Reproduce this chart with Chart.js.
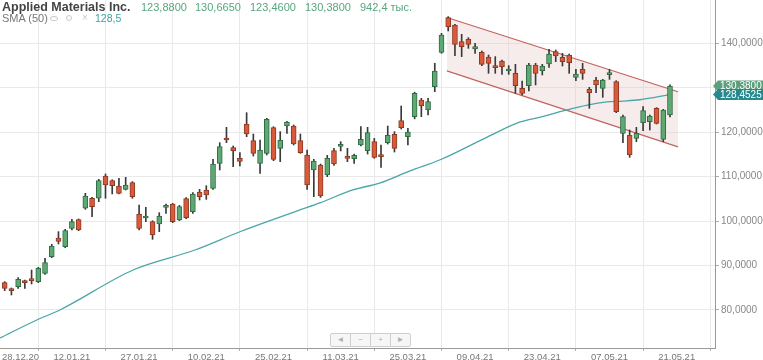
<!DOCTYPE html>
<html><head><meta charset="utf-8">
<script src="https://cdn.jsdelivr.net/npm/chart.js@4"></script>
<style>
html,body{margin:0;padding:0;background:#fff;}
#wrap{position:relative;width:763px;height:360px;overflow:hidden;font-family:Arial,"Liberation Sans",sans-serif;}
canvas{display:block;}
.t{position:absolute;white-space:nowrap;line-height:14px;}
#name{left:2px;top:0px;font-weight:bold;font-size:12.5px;color:#444;}
.v{font-size:11px;color:#56a67f;top:0px;}
#sma{left:2px;top:11px;font-size:11px;color:#777;}
#smaval{left:95px;top:11px;font-size:10.5px;color:#3ea2a2;}
.ic{position:absolute;border:1.5px solid #c8c8c8;}
#nav{position:absolute;left:331px;top:333px;height:13px;display:flex;}
#nav div{width:19px;height:12px;border:1px solid #cfcfcf;background:#f6f6f6;color:#b0b0b0;font-size:8px;line-height:12px;text-align:center;margin-left:-1px;}
#nav div:first-child{border-radius:2px 0 0 2px;}
#nav div:last-child{border-radius:0 2px 2px 0;}
</style></head>
<body>
<div id="wrap">
<canvas id="c" width="763" height="360"></canvas>
<span class="t" id="name"></span>
<span class="t v" id="v0" style="left:141px"></span>
<span class="t v" id="v1" style="left:195px"></span>
<span class="t v" id="v2" style="left:250px"></span>
<span class="t v" id="v3" style="left:305px"></span>
<span class="t v" id="v4" style="left:360px"></span>
<span class="t" id="sma"></span>
<div class="ic" style="left:50px;top:16px;width:6px;height:3px;border-radius:50%;"></div>
<div class="ic" style="left:66px;top:15px;width:4px;height:4px;border-radius:50%;"></div>
<span class="t" style="left:82px;top:11px;font-size:10px;color:#c8c8c8;">×</span>
<span class="t" id="smaval"></span>
<div id="nav"><div>◄</div><div>−</div><div>+</div><div>►</div></div>
</div>
<script>
// ---- data ----
const seriesName = 'Applied Materials Inc.';
const volumeText = '942,4 тыс.';
const smaName = 'SMA (50)';
const tickDates = ['28.12.20','12.01.21','27.01.21','10.02.21','25.02.21','11.03.21','25.03.21','09.04.21','23.04.21','07.05.21','21.05.21'];
const tickIdx = [0,10,20,30,40,50,60,70,80,90,100];
const yTicks = [80,90,100,110,120,130,140];

const opens = [86.15,84.80,85.25,86.60,86.90,86.38,88.25,92.00,96.20,94.25,
 98.38,100.33,102.88,105.13,105.13,110.15,109.10,107.90,107.15,108.65,
 101.60,100.69,99.87,99.34,103.09,103.84,100.24,105.04,102.12,106.54,
 106.99,107.37,112.99,118.69,116.52,114.12,121.84,118.09,112.99,115.24,
 121.02,116.37,121.39,121.39,118.09,114.87,111.49,112.62,110.37,115.84,
 116.82,114.64,114.04,117.12,115.84,117.87,114.64,117.64,119.52,122.59,
 118.99,123.50,127.25,125.00,130.25,137.97,145.77,144.12,140.37,140.90,
 138.72,137.97,136.92,134.90,136.02,133.77,133.25,129.87,130.47,135.12,
 133.84,135.34,138.12,136.84,137.37,132.34,134.14,129.64,131.74,129.87,
 132.94,131.37,119.74,119.37,118.62,122.14,122.37,125.37,118.39,123.88];
const highs = [86.38,84.95,87.28,86.75,89.00,89.60,91.63,94.78,97.63,98.15,
 100.40,100.48,106.25,105.35,109.40,110.60,109.30,109.63,109.85,108.88,
 103.62,103.09,100.09,101.89,103.84,103.99,103.54,105.27,106.39,107.14,
 107.97,113.89,117.64,121.09,116.89,115.39,124.39,119.59,118.24,123.12,
 121.24,120.12,122.44,121.62,119.59,115.99,113.89,112.84,114.79,116.37,
 117.87,116.37,115.09,121.24,121.09,118.62,117.12,121.39,120.12,125.89,
 120.87,129.00,127.62,127.62,135.50,142.25,146.00,144.27,142.02,141.27,
 140.00,138.27,137.37,137.00,136.25,134.97,135.27,131.52,135.50,135.50,
 135.27,138.64,138.49,137.74,137.59,134.14,135.49,130.09,132.34,131.89,
 134.14,131.59,123.87,120.49,121.09,125.74,123.87,125.52,125.14,130.665];
const lows = [84.35,83.38,84.88,84.88,85.85,86.15,88.03,91.78,94.85,94.03,
 98.00,97.85,102.65,101.00,104.38,105.13,106.10,106.10,107.00,105.13,
 97.99,99.87,95.89,97.62,101.74,99.64,100.09,100.54,101.74,104.74,
 104.89,107.14,111.49,117.64,112.24,112.39,118.99,114.64,110.74,114.87,
 113.59,113.37,119.74,117.12,115.24,107.14,105.49,105.34,109.99,112.54,
 115.77,113.37,112.99,116.89,115.09,114.12,112.09,117.34,115.54,120.72,
 117.12,123.00,123.50,123.87,129.12,137.75,142.77,137.22,137.00,138.87,
 137.75,134.97,133.25,133.25,133.02,133.02,128.75,128.37,129.27,130.62,
 132.87,134.59,135.87,134.89,133.24,131.59,131.89,125.37,128.89,127.84,
 131.89,124.39,117.64,114.34,117.87,120.34,120.49,121.84,117.87,123.46];
const closes = [84.88,84.35,86.90,86.15,86.60,89.38,90.65,94.40,95.45,97.85,
 99.88,98.00,105.65,103.25,109.10,108.13,107.98,106.25,108.13,105.50,
 98.37,100.99,96.87,101.14,103.54,99.87,103.24,100.77,106.09,105.49,
 105.87,112.84,116.74,118.24,115.77,113.44,119.59,115.24,115.99,122.89,
 113.89,118.24,122.29,117.34,115.39,108.12,113.52,105.64,114.12,112.84,
 116.97,114.12,114.79,118.39,119.89,114.34,114.49,119.29,116.37,121.02,
 120.04,128.75,125.97,126.87,133.77,141.87,143.75,139.77,139.25,139.77,
 139.25,135.27,135.50,134.52,134.75,134.22,130.47,128.75,135.12,133.25,
 134.89,137.59,137.14,135.87,135.64,133.09,133.24,128.89,130.62,131.74,
 133.24,124.62,123.49,114.87,119.74,124.84,123.64,121.99,124.99,130.38];

// SMA(50) at these candle positions
const smaIdx = [-0.7,4.7,8.2,19.1,28.3,35.0,40.2,43.9,46.9,51.8,55.9,60.3,64.8,71.8,76.7,79.7,83.1,86.7,89.6,92.0,94.5,99];
const smaVal = [73.7,77.7,80.0,89.0,93.5,97.6,100.5,102.5,104.1,107.0,108.6,111.3,113.8,118.9,122.3,123.4,124.8,126.1,126.8,127.0,127.3,128.4525];

// regression channel
const chanIdx = [65.8,100.2];
const chanUpper = [145.8,129.1];
const chanLower = [133.8,116.7];

// ---- helpers ----
const fmt4 = v => v.toFixed(4).replace('.', ',');
const n = opens.length;
const last = n - 1;

document.getElementById('name').textContent = seriesName;
[opens[last], highs[last], lows[last], closes[last]].forEach((v,i)=>{
  document.getElementById('v'+i).textContent = fmt4(v);
});
document.getElementById('v4').textContent = volumeText;
document.getElementById('sma').textContent = smaName;
document.getElementById('smaval').textContent = smaVal[smaVal.length-1].toFixed(1).replace('.', ',');

const GREEN = '#5ea874', GREEN_B = '#2f6b43', RED = '#d9593b', RED_B = '#8c3a24';
const up = opens.map((o,i)=>closes[i] >= o);

const wickData = opens.map((o,i)=>({x:i, y:[lows[i], highs[i]]}));
const bodyData = opens.map((o,i)=>({x:i, y:[o, closes[i]]}));

const tagPlugin = {
  id:'tags',
  afterDraw(chart){
    const ctx = chart.ctx, ys = chart.scales.y, a = chart.chartArea;
    const draw = (val, bg) => {
      const y = ys.getPixelForValue(val), h = 11, x0 = a.right;
      ctx.save();
      ctx.fillStyle = bg;
      ctx.beginPath();
      ctx.moveTo(x0 - 2, y);
      ctx.lineTo(x0 + 3, y - h/2);
      ctx.lineTo(chart.width, y - h/2);
      ctx.lineTo(chart.width, y + h/2);
      ctx.lineTo(x0 + 3, y + h/2);
      ctx.closePath();
      ctx.fill();
      ctx.fillStyle = '#fff';
      ctx.font = '10px Arial, "Liberation Sans", sans-serif';
      ctx.textBaseline = 'middle';
      ctx.textAlign = 'left';
      ctx.fillText(fmt4(val), x0 + 5, y + 0.5);
      ctx.restore();
    };
    draw(closes[last], '#5c9f7c');
    draw(smaVal[smaVal.length-1], '#27898d');
  }
};

Chart.defaults.font.family = 'Arial, "Liberation Sans", sans-serif';

new Chart(document.getElementById('c'), {
  type: 'bar',
  data: {
    datasets: [
      { type:'line', data: chanIdx.map((x,i)=>({x, y:chanUpper[i]})), borderColor:'#c4625c', borderWidth:1.2,
        pointRadius:0, fill:false, order:6 },
      { type:'line', data: chanIdx.map((x,i)=>({x, y:chanLower[i]})), borderColor:'#c4625c', borderWidth:1.2,
        pointRadius:0, fill:'-1', backgroundColor:'rgba(226,196,192,0.32)', order:6 },
      { type:'line', data: smaIdx.map((x,i)=>({x, y:smaVal[i]})), borderColor:'#4aa6a8', borderWidth:1.3,
        pointRadius:0, fill:false, cubicInterpolationMode:'monotone', order:5 },
      { type:'bar', data: wickData, grouped:false, barThickness:1, backgroundColor:'#3a3a3a', order:2 },
      { type:'bar', data: bodyData, grouped:false, barThickness:5, minBarLength:2,
        backgroundColor: up.map(u=>u?GREEN:RED), borderColor: up.map(u=>u?GREEN_B:RED_B),
        borderWidth:1, borderSkipped:false, order:1 }
    ]
  },
  options: {
    responsive:false, animation:false, devicePixelRatio:1,
    layout:{padding:0},
    plugins:{legend:{display:false}, tooltip:{enabled:false}},
    scales:{
      x:{
        type:'linear', min:-0.7, max:105.7, offset:false,
        afterBuildTicks: s => { s.ticks = tickIdx.map(v=>({value:v})); },
        afterFit: s => { s.height = 12; s.paddingLeft = 0; s.paddingRight = 0; },
        grid:{color:'#e9e9e9', drawTicks:true, tickLength:3, tickColor:'#b0b0b0'},
        border:{color:'#9a9a9a'},
        ticks:{color:'#777', font:{size:9.5}, padding:1, maxRotation:0, autoSkip:false,
          callback:(v,i)=> i===0 ? '\u00a0'.repeat(12) + tickDates[i] : tickDates[i]}
      },
      y:{
        position:'right', min:71.45, max:149.74,
        afterBuildTicks: s => { s.ticks = yTicks.map(v=>({value:v})); },
        afterFit: s => { s.width = 48; s.paddingTop = 0; s.paddingBottom = 0; },
        grid:{color:'#e9e9e9', drawTicks:true, tickLength:4, tickColor:'#aaa'},
        border:{color:'#9a9a9a'},
        ticks:{color:'#888', font:{size:10}, padding:2, callback: v => fmt4(v)}
      }
    }
  },
  plugins:[tagPlugin]
});
</script>
</body></html>
